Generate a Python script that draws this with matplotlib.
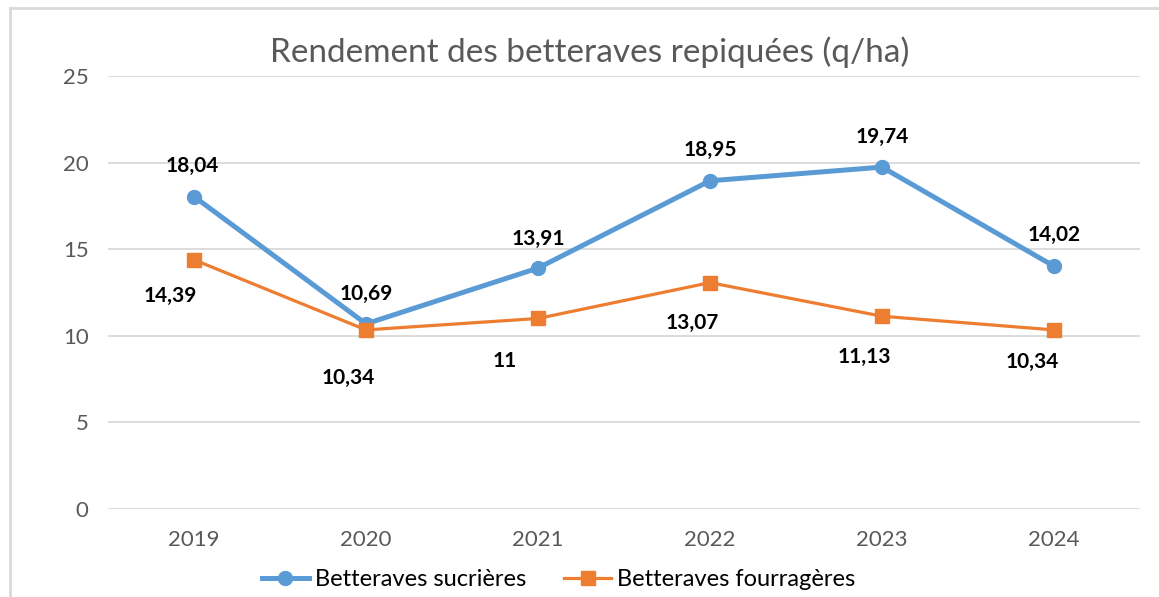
import matplotlib.pyplot as plt
from matplotlib.lines import Line2D

# Data
years = ["2019", "2020", "2021", "2022", "2023", "2024"]
sucrieres = [18.04, 10.69, 13.91, 18.95, 19.74, 14.02]
fourrageres = [14.39, 10.34, 11.00, 13.07, 11.13, 10.34]
sucrieres_labels = ["18,04", "10,69", "13,91", "18,95", "19,74", "14,02"]
fourrageres_labels = ["14,39", "10,34", "11", "13,07", "11,13", "10,34"]

# label offsets in pixels (dx, dy down)
off_blue = [(-2, -31), (0, -30), (0, -29), (0, -31), (0, -30), (0, -31)]
off_orange = [(-24, 36), (-18, 48), (-33, 43), (-18, 40), (-18, 41), (-22, 32)]

BLUE = "#5B9BD5"
ORANGE = "#ED7D31"
GRID = "#D9D9D9"
TXT = "#595959"

plt.rcParams['font.family'] = ['Lato', 'DejaVu Sans']

fig = plt.figure(figsize=(11.59, 5.97), dpi=100)
ax = fig.add_axes([108 / 1159, 1 - 509 / 597, (1140 - 108) / 1159, (509 - 76) / 597])

x = list(range(len(years)))
ax.plot(x, sucrieres, color=BLUE, lw=3.6, marker='o', ms=10, label="Betteraves sucrières", zorder=3)
ax.plot(x, fourrageres, color=ORANGE, lw=2.3, marker='s', ms=10, label="Betteraves fourragères", zorder=3)

px = 0.72
for i in x:
    dx, dy = off_blue[i]
    ax.annotate(sucrieres_labels[i], (i, sucrieres[i]), xytext=(dx * px, -dy * px),
                textcoords='offset points', ha='center', va='center',
                fontsize=15, fontweight='bold', color='black')
    dx, dy = off_orange[i]
    ax.annotate(fourrageres_labels[i], (i, fourrageres[i]), xytext=(dx * px, -dy * px),
                textcoords='offset points', ha='center', va='center',
                fontsize=15, fontweight='bold', color='black')

ax.set_xlim(-0.5, 5.5)
ax.set_ylim(0, 25)
ax.set_yticks([0, 5, 10, 15, 20, 25])
ax.set_xticks(x)
ax.set_xticklabels(years)
ax.grid(axis='y', color=GRID, lw=1.3)
ax.set_axisbelow(True)
for s in ax.spines.values():
    s.set_visible(False)
ax.tick_params(axis='both', length=0, labelsize=16, labelcolor=TXT)
ax.tick_params(axis='y', pad=14)
ax.tick_params(axis='x', pad=15)

fig.text(0.509, 1 - 52 / 597, "Rendement des betteraves repiquées (q/ha)",
         ha='center', va='center', fontsize=24, fontweight='normal', color=TXT)

fig.legend(loc='center', bbox_to_anchor=(0.482, 1 - 580 / 597), ncol=2, frameon=False,
           fontsize=17, handlelength=2.0, columnspacing=1.6, handletextpad=0.25,
           labelcolor='black')

# chart frame (top and left edges visible)
fig.add_artist(Line2D([10 / 1159, 10 / 1159], [0, 1 - 8 / 597], color=GRID, lw=2, transform=fig.transFigure))
fig.add_artist(Line2D([10 / 1159, 1], [1 - 8 / 597, 1 - 8 / 597], color=GRID, lw=2, transform=fig.transFigure))

fig.savefig("out.png", dpi=100)
